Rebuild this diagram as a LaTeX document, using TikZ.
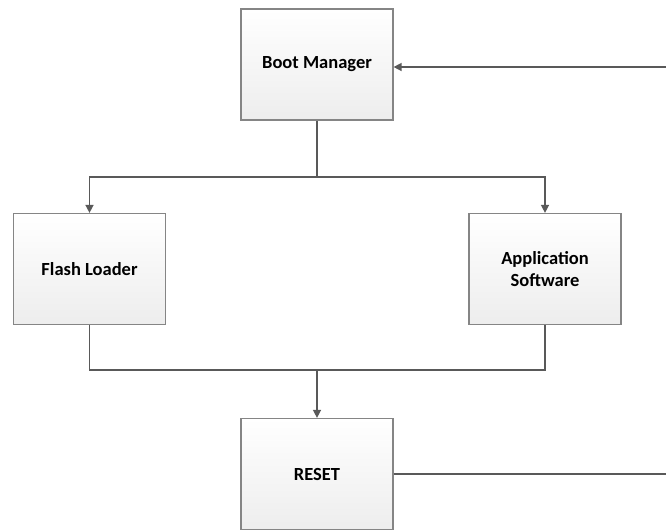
\documentclass[tikz,border=0pt]{standalone}
\usepackage{fontspec}
\setmainfont{Carlito}
\usetikzlibrary{arrows.meta}
\begin{document}
\begin{tikzpicture}[x=1pt,y=-1pt,
  block/.style={draw=black!48, line width=1.2pt, top color=white, bottom color=black!7,
    minimum width=152pt, minimum height=111pt, inner sep=0pt, align=center,
    font=\bfseries\fontsize{18.5}{22}\selectfont},
  link/.style={draw=black!65, line width=1.4pt},
  arr/.style={link, -{Triangle[length=8pt,width=8pt]}}]
\useasboundingbox (0,0) rectangle (666,531);
\node[block] (boot)  at (317,64.5)  {Boot Manager};
\node[block] (flash) at (89.5,269)  {Flash Loader};
\node[block] (app)   at (545,269)   {Application\\Software};
\node[block] (reset) at (317,474)   {RESET};
\coordinate (split) at (317,177);
\coordinate (join)  at (317,370);
\coordinate (rin)   at (667,67);
\coordinate (rout)  at (667,474);
\draw[link] (boot.south) -- (split);
\draw[arr] (split) -| (flash.north);
\draw[arr] (split) -| (app.north);
\draw[link] (flash.south) |- (join);
\draw[link] (app.south) |- (join);
\draw[arr] (join) -- (reset.north);
\draw[link] (reset.east) -- (rout);
\draw[arr] (rin) -- (boot.east |- rin);
\end{tikzpicture}
\end{document}
